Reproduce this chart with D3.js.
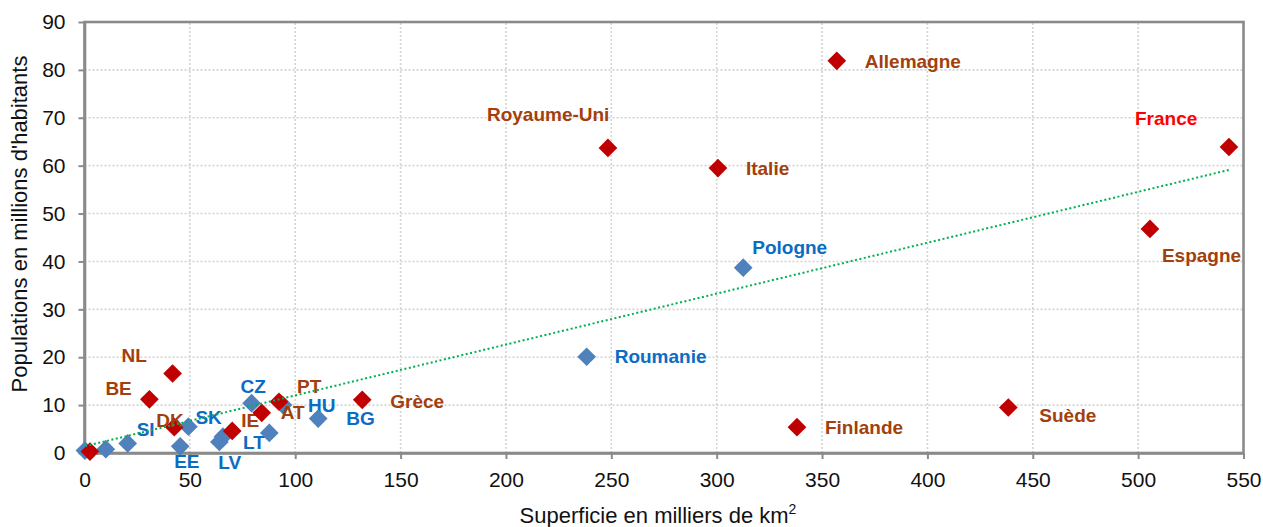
<!DOCTYPE html>
<html>
<head>
<meta charset="utf-8">
<script src="https://cdn.jsdelivr.net/npm/d3@7"></script>
<style>
body{margin:0;background:#fff;}
svg{display:block;font-family:"Liberation Sans",Arial,sans-serif;}
</style>
</head>
<body>
<svg id="svg" width="1263" height="527"></svg>
<script>
// anciens membres (UE15)
var oldNames=["LU","BE","NL","DK","IE","AT","PT","Grèce","Finlande","Suède","Espagne","Italie","Royaume-Uni","Allemagne","France"];
var oldArea=[2.6,30.8,41.8,42.6,70.1,84.1,92.3,131.8,338.1,438.4,505.6,300.6,248.4,357.0,543.1];
var oldPop=[0.3,11.2,16.6,5.4,4.6,8.4,10.7,11.1,5.4,9.5,46.8,59.5,63.7,81.9,63.9];

// nouveaux membres
var newNames=["MT","CY","SI","EE","SK","LV","LT","","CZ","HU","BG","Roumanie","Pologne"];
var newArea=[0.2,10.1,20.5,45.4,49.3,64.0,65.7,87.7,79.3,94.2,110.9,238.3,312.6];
var newPop=[0.5,0.8,2.0,1.4,5.5,2.3,3.4,4.2,10.4,10.0,7.2,20.1,38.7];

// droite de tendance
var trendX=[0.3,543];
var trendY=[1.43,59.1];

var xTicks=[0,50,100,150,200,250,300,350,400,450,500,550];
var yTicks=[0,10,20,30,40,50,60,70,80,90];

// placement des etiquettes (dx, dy en px par rapport au point)
var labelPos={
  "BE":[-44,-4],"NL":[-51,-12],"DK":[-18,0],"IE":[9,-4],"AT":[19,6],"PT":[18,-9],
  "Grèce":[28,8],"Finlande":[28,7],"Suède":[31,14],"Espagne":[12,33],"Italie":[28,7],
  "Royaume-Uni":[-121,-27],"Allemagne":[28,7],"France":[-94,-22],
  "SI":[9,-7],"EE":[-6,22],"SK":[7,-3],"LV":[-1,27],"LT":[20,12],
  "CZ":[-11,-10],"HU":[25,7],"BG":[28,6],"Roumanie":[28,6],"Pologne":[9,-14]
};

var width=+d3.select("#svg").attr("width")
var height=+d3.select("#svg").attr("height")
var svg=d3.select("#svg")
var margin={left:84.5,right:19.5,top:22,bottom:74}

var x=d3.scaleLinear().domain([0,550]).range([margin.left,width-margin.right])
var y=d3.scaleLinear().domain([0,90]).range([height-margin.bottom,margin.top])

var brown="#A33F0C", blueTxt="#0A6CC4", red="#C00000", blue="#4F81BD";

//grille
svg.append("g").selectAll("line").data(xTicks.slice(1,-1)).enter().append("line")
    .attr("x1",d=>x(d)).attr("x2",d=>x(d))
    .attr("y1",y(0)).attr("y2",y(90))
    .style("stroke","#d3d3d3").style("stroke-width",1.6).style("stroke-dasharray","2,2")
svg.append("g").selectAll("line").data(yTicks.slice(1,-1)).enter().append("line")
    .attr("x1",x(0)).attr("x2",x(550))
    .attr("y1",d=>y(d)).attr("y2",d=>y(d))
    .style("stroke","#d3d3d3").style("stroke-width",1.6).style("stroke-dasharray","2,2")

//cadre
svg.append("rect")
    .attr("x",x(0)).attr("y",y(90))
    .attr("width",x(550)-x(0)).attr("height",y(0)-y(90))
    .style("fill","none").style("stroke","#8a8a8a").style("stroke-width",2.6)

//axes
var xAxis=svg.append("g")
    .attr("transform","translate(0,"+y(0)+")")
    .call(d3.axisBottom(x).tickValues(xTicks).tickSize(6).tickSizeOuter(0).tickPadding(13))
var yAxis=svg.append("g")
    .attr("transform","translate("+x(0)+",0)")
    .call(d3.axisLeft(y).tickValues(yTicks).tickSize(6).tickSizeOuter(0).tickPadding(13))
svg.selectAll(".domain").style("stroke","#8a8a8a").style("stroke-width",2.6)
svg.selectAll(".tick line").style("stroke","#8a8a8a").style("stroke-width",2)
svg.selectAll(".tick text").style("font-size","21px").style("fill","#111")
    .style("font-family","'Liberation Sans',Arial,sans-serif")

//titres
var xt=svg.append("text")
    .attr("x",658).attr("y",523)
    .attr("text-anchor","middle")
    .style("font-size","22px").style("fill","#111")
xt.append("tspan").text("Superficie en milliers de km")
xt.append("tspan").text("2").attr("dy","-9").style("font-size","14px")

svg.append("text")
    .attr("transform","translate(27,"+224+") rotate(-90)")
    .attr("text-anchor","middle")
    .style("font-size","22px").style("fill","#111")
    .text("Populations en millions d'habitants")

//points
var diamond=d3.symbol().type(d3.symbolSquare).size(175)

function drawSeries(names,area,pop,fill){
    var g=svg.append("g")
    var cell=g.selectAll("g").data(names.map((n,i)=>({name:n,a:area[i],p:pop[i]})))
        .enter().append("g")
    cell.append("path")
        .attr("d",diamond)
        .attr("transform",d=>"translate("+x(d.a)+","+y(d.p)+") rotate(45)")
        .style("fill",fill)
    return cell
}

var newCell=drawSeries(newNames,newArea,newPop,blue)
var oldCell=drawSeries(oldNames,oldArea,oldPop,red)

//tendance
svg.append("line")
    .attr("x1",x(trendX[0])).attr("y1",y(trendY[0]))
    .attr("x2",x(trendX[1])).attr("y2",y(trendY[1]))
    .style("stroke","#00B050").style("stroke-width",2).style("stroke-dasharray","2,2.5")

//etiquettes
function labels(cell,color){
    cell.filter(d=>labelPos[d.name]).append("text")
        .attr("x",d=>x(d.a)+labelPos[d.name][0])
        .attr("y",d=>y(d.p)+labelPos[d.name][1])
        .text(d=>d.name)
        .style("font-size","19px").style("font-weight","bold")
        .style("fill",d=>d.name=="France"?"#FF0000":color)
}
labels(newCell,blueTxt)
labels(oldCell,brown)
</script>
</body>
</html>
